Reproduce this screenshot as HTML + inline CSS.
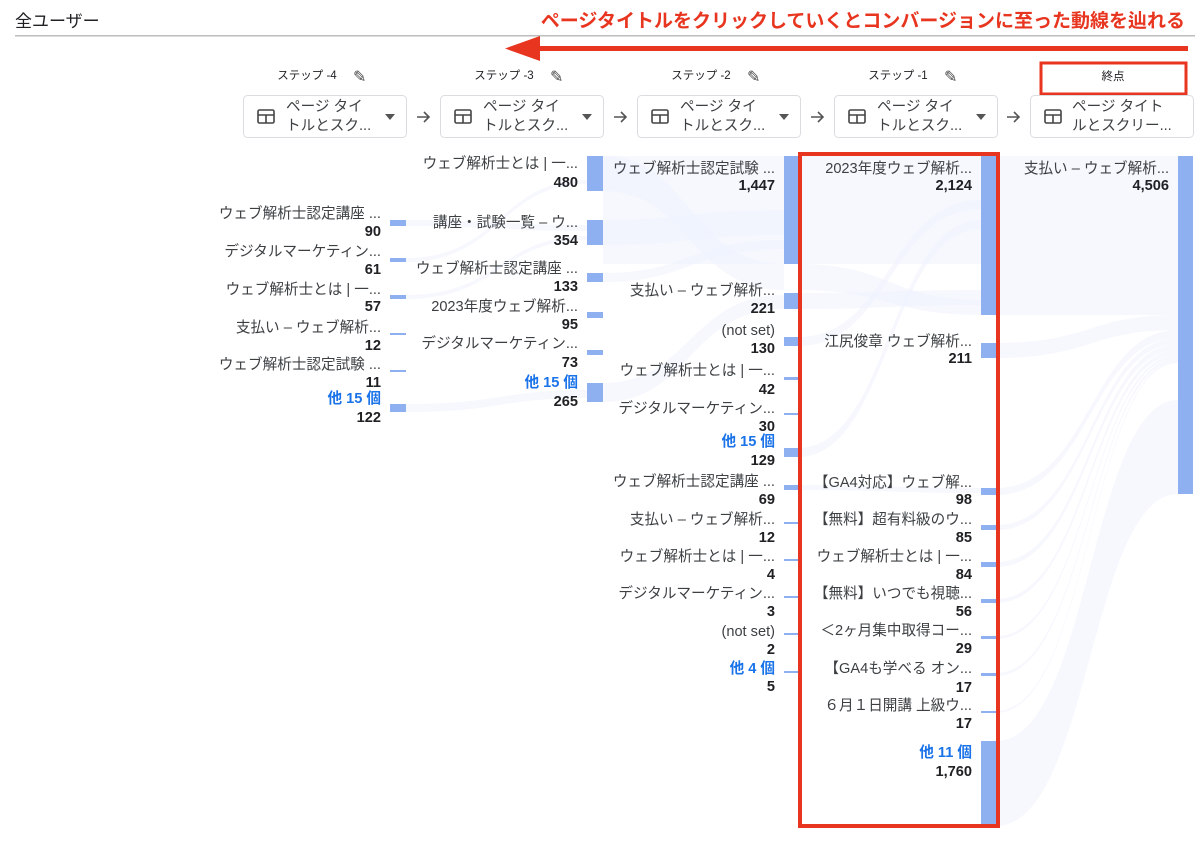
<!DOCTYPE html>
<html><head><meta charset="utf-8"><style>
body{margin:0;background:#fff;width:1200px;height:840px;overflow:hidden;font-family:"Liberation Sans","Noto Sans CJK JP",sans-serif}
svg text{font-family:"Liberation Sans","Noto Sans CJK JP",sans-serif}
.l{font-size:14.6px;fill:#3c4043;text-anchor:end}
.n{font-size:14.6px;fill:#202124;font-weight:bold;text-anchor:end}
.o{font-size:14.6px;fill:#1a73e8;font-weight:bold;text-anchor:end}
.s{font-size:11.5px;fill:#202124;text-anchor:middle}
.d{font-size:14.6px;fill:#3c4043}
.b{fill:#8fb0f0}
.f{fill:#eef3fd;opacity:.55}
</style></head><body>
<svg width="1200" height="840" xmlns="http://www.w3.org/2000/svg">
<text x="15" y="27" font-size="17" fill="#202124">全ユーザー</text>
<rect x="15" y="35" width="1180" height="1.5" fill="#bdbdbd"/>
<text x="1185" y="27" font-size="19" font-weight="bold" fill="#e8351f" text-anchor="end">ページタイトルをクリックしていくとコンバージョンに至った動線を辿れる</text>
<rect x="535" y="46" width="653" height="5" fill="#e8351f"/>
<polygon points="505,48.5 540,36 540,61" fill="#e8351f"/>

<!-- flows -->
<rect class="f" x="603" y="156" width="181" height="108"/>
<rect class="f" x="798" y="156" width="183" height="108"/>
<rect class="f" x="996" y="156" width="182" height="159"/>
<path class="f" d="M798 264 C890 264,890 300,981 300 L981 315 C890 315,890 290,798 290Z"/>
<path class="f" d="M798 293 C890 293,890 290,981 290 L981 305 C890 305,890 309,798 309Z"/>
<path class="f" d="M996 343 C1090 343,1090 315,1178 315 L1178 330 C1090 330,1090 358,996 358Z"/>
<path class="f" d="M996 741 C1090 741,1090 400,1178 400 L1178 494 C1090 494,1090 826,996 826Z"/>
<path class="f" d="M996 488 C1090 488,1090 330,1178 330 L1178 338 C1090 338,1090 495,996 495Z"/>
<path class="f" d="M996 525 C1090 525,1090 338,1178 338 L1178 344 C1090 344,1090 530,996 530Z"/>
<path class="f" d="M996 562 C1090 562,1090 344,1178 344 L1178 350 C1090 350,1090 567,996 567Z"/>
<path class="f" d="M996 599 C1090 599,1090 350,1178 350 L1178 355 C1090 355,1090 603,996 603Z"/>
<path class="f" d="M996 636 C1090 636,1090 355,1178 355 L1178 358 C1090 358,1090 639,996 639Z"/>
<path class="f" d="M996 673 C1090 673,1090 358,1178 358 L1178 361 C1090 361,1090 676,996 676Z"/>
<path class="f" d="M996 711 C1090 711,1090 361,1178 361 L1178 363 C1090 363,1090 713,996 713Z"/>
<path class="f" d="M798 337 C890 337,890 200,981 200 L981 209 C890 209,890 346,798 346Z"/>
<path class="f" d="M798 448 C890 448,890 220,981 220 L981 229 C890 229,890 457,798 457Z"/>
<path class="f" d="M798 485 C890 485,890 488,981 488 L981 493 C890 493,890 490,798 490Z"/>
<path class="f" d="M603 156 C690 156,690 264,784 264 L784 290 C690 290,690 191,603 191Z"/>
<path class="f" d="M603 220 C690 220,690 210,784 210 L784 235 C690 235,690 245,603 245Z"/>
<path class="f" d="M603 273 C690 273,690 240,784 240 L784 249 C690 249,690 282,603 282Z"/>
<path class="f" d="M603 383 C690 383,690 295,784 295 L784 309 C690 309,690 402,603 402Z"/>
<path class="f" d="M406 220 C500 220,500 225,587 225 L587 231 C500 231,500 226,406 226Z"/>
<path class="f" d="M406 258 C500 258,500 180,587 180 L587 184 C500 184,500 262,406 262Z"/>
<path class="f" d="M406 404 C500 404,500 390,587 390 L587 398 C500 398,500 412,406 412Z"/>
<path class="f" d="M406 295 C500 295,500 236,587 236 L587 240 C500 240,500 299,406 299Z"/>

<!-- bars -->
<rect class="b" x="390" y="220" width="16" height="6"/>
<rect class="b" x="390" y="258" width="16" height="4"/>
<rect class="b" x="390" y="295" width="16" height="4"/>
<rect class="b" x="390" y="333" width="16" height="2"/>
<rect class="b" x="390" y="370" width="16" height="2"/>
<rect class="b" x="390" y="404" width="16" height="8"/>
<rect class="b" x="587" y="156" width="16" height="35"/>
<rect class="b" x="587" y="220" width="16" height="25"/>
<rect class="b" x="587" y="273" width="16" height="9"/>
<rect class="b" x="587" y="312" width="16" height="6"/>
<rect class="b" x="587" y="350" width="16" height="5"/>
<rect class="b" x="587" y="383" width="16" height="19"/>
<rect class="b" x="784" y="156" width="14" height="108"/>
<rect class="b" x="784" y="293" width="14" height="16"/>
<rect class="b" x="784" y="337" width="14" height="9"/>
<rect class="b" x="784" y="377" width="14" height="3"/>
<rect class="b" x="784" y="413" width="14" height="2"/>
<rect class="b" x="784" y="448" width="14" height="9"/>
<rect class="b" x="784" y="485" width="14" height="5"/>
<rect class="b" x="784" y="522" width="14" height="2"/>
<rect class="b" x="784" y="559" width="14" height="2"/>
<rect class="b" x="784" y="596" width="14" height="2"/>
<rect class="b" x="784" y="633" width="14" height="2"/>
<rect class="b" x="784" y="671" width="14" height="2"/>
<rect class="b" x="981" y="156" width="15" height="159"/>
<rect class="b" x="981" y="343" width="15" height="15"/>
<rect class="b" x="981" y="488" width="15" height="7"/>
<rect class="b" x="981" y="525" width="15" height="5"/>
<rect class="b" x="981" y="562" width="15" height="5"/>
<rect class="b" x="981" y="599" width="15" height="4"/>
<rect class="b" x="981" y="636" width="15" height="3"/>
<rect class="b" x="981" y="673" width="15" height="3"/>
<rect class="b" x="981" y="711" width="15" height="2"/>
<rect class="b" x="981" y="741" width="15" height="85"/>
<rect class="b" x="1178" y="156" width="15" height="338"/>

<!-- step -4 labels -->
<text class="l" x="381" y="218">ウェブ解析士認定講座 ...</text><text class="n" x="381" y="236">90</text>
<text class="l" x="381" y="256">デジタルマーケティン...</text><text class="n" x="381" y="274">61</text>
<text class="l" x="381" y="294">ウェブ解析士とは | 一...</text><text class="n" x="381" y="311">57</text>
<text class="l" x="381" y="332">支払い – ウェブ解析...</text><text class="n" x="381" y="350">12</text>
<text class="l" x="381" y="369">ウェブ解析士認定試験 ...</text><text class="n" x="381" y="387">11</text>
<text class="o" x="381" y="403">他 15 個</text><text class="n" x="381" y="422">122</text>
<!-- step -3 -->
<text class="l" x="578" y="168">ウェブ解析士とは | 一...</text><text class="n" x="578" y="187">480</text>
<text class="l" x="578" y="227">講座・試験一覧 – ウ...</text><text class="n" x="578" y="245">354</text>
<text class="l" x="578" y="273">ウェブ解析士認定講座 ...</text><text class="n" x="578" y="291">133</text>
<text class="l" x="578" y="311">2023年度ウェブ解析...</text><text class="n" x="578" y="329">95</text>
<text class="l" x="578" y="348">デジタルマーケティン...</text><text class="n" x="578" y="367">73</text>
<text class="o" x="578" y="387">他 15 個</text><text class="n" x="578" y="406">265</text>
<!-- step -2 -->
<text class="l" x="775" y="173">ウェブ解析士認定試験 ...</text><text class="n" x="775" y="190">1,447</text>
<text class="l" x="775" y="295">支払い – ウェブ解析...</text><text class="n" x="775" y="313">221</text>
<text class="l" x="775" y="335">(not set)</text><text class="n" x="775" y="353">130</text>
<text class="l" x="775" y="375">ウェブ解析士とは | 一...</text><text class="n" x="775" y="394">42</text>
<text class="l" x="775" y="413">デジタルマーケティン...</text><text class="n" x="775" y="431">30</text>
<text class="o" x="775" y="446">他 15 個</text><text class="n" x="775" y="465">129</text>
<text class="l" x="775" y="486">ウェブ解析士認定講座 ...</text><text class="n" x="775" y="504">69</text>
<text class="l" x="775" y="524">支払い – ウェブ解析...</text><text class="n" x="775" y="542">12</text>
<text class="l" x="775" y="561">ウェブ解析士とは | 一...</text><text class="n" x="775" y="579">4</text>
<text class="l" x="775" y="598">デジタルマーケティン...</text><text class="n" x="775" y="616">3</text>
<text class="l" x="775" y="636">(not set)</text><text class="n" x="775" y="654">2</text>
<text class="o" x="775" y="673">他 4 個</text><text class="n" x="775" y="691">5</text>
<!-- step -1 -->
<text class="l" x="972" y="173">2023年度ウェブ解析...</text><text class="n" x="972" y="190">2,124</text>
<text class="l" x="972" y="346">江尻俊章 ウェブ解析...</text><text class="n" x="972" y="363">211</text>
<text class="l" x="972" y="487">【GA4対応】ウェブ解...</text><text class="n" x="972" y="504">98</text>
<text class="l" x="972" y="524">【無料】超有料級のウ...</text><text class="n" x="972" y="542">85</text>
<text class="l" x="972" y="561">ウェブ解析士とは | 一...</text><text class="n" x="972" y="579">84</text>
<text class="l" x="972" y="598">【無料】いつでも視聴...</text><text class="n" x="972" y="616">56</text>
<text class="l" x="972" y="635">＜2ヶ月集中取得コー...</text><text class="n" x="972" y="653">29</text>
<text class="l" x="972" y="673">【GA4も学べる オン...</text><text class="n" x="972" y="692">17</text>
<text class="l" x="972" y="710">６月１日開講 上級ウ...</text><text class="n" x="972" y="728">17</text>
<text class="o" x="972" y="757">他 11 個</text><text class="n" x="972" y="776">1,760</text>
<!-- end -->
<text class="l" x="1169" y="173">支払い – ウェブ解析...</text><text class="n" x="1169" y="190">4,506</text>

<!-- headers -->
<text class="s" x="307" y="79">ステップ -4</text><text x="353" y="82" font-size="16" fill="#444">✎</text>
<text class="s" x="504" y="79">ステップ -3</text><text x="550" y="82" font-size="16" fill="#444">✎</text>
<text class="s" x="701" y="79">ステップ -2</text><text x="747" y="82" font-size="16" fill="#444">✎</text>
<text class="s" x="898" y="79">ステップ -1</text><text x="944" y="82" font-size="16" fill="#444">✎</text>
<text class="s" x="1113" y="80">終点</text>
<rect x="1041" y="63" width="145" height="31" fill="none" stroke="#e8351f" stroke-width="3"/>
<g fill="#fff" stroke="#dadce0">
<rect x="243.5" y="95.5" width="163" height="42" rx="4"/>
<rect x="440.5" y="95.5" width="163" height="42" rx="4"/>
<rect x="637.5" y="95.5" width="163" height="42" rx="4"/>
<rect x="834.5" y="95.5" width="163" height="42" rx="4"/>
<rect x="1030.5" y="95.5" width="163" height="42" rx="4"/>
</g>
<g fill="none" stroke="#444" stroke-width="1.6">
<rect x="258" y="110" width="16" height="13" rx="1.5"/><path d="M258 115H274M266 115V123"/>
<rect x="455" y="110" width="16" height="13" rx="1.5"/><path d="M455 115H471M463 115V123"/>
<rect x="652" y="110" width="16" height="13" rx="1.5"/><path d="M652 115H668M660 115V123"/>
<rect x="849" y="110" width="16" height="13" rx="1.5"/><path d="M849 115H865M857 115V123"/>
<rect x="1045" y="110" width="16" height="13" rx="1.5"/><path d="M1045 115H1061M1053 115V123"/>
</g>
<g fill="#555">
<polygon points="385,114 395,114 390,120"/><polygon points="582,114 592,114 587,120"/>
<polygon points="779,114 789,114 784,120"/><polygon points="976,114 986,114 981,120"/>
</g>
<text class="d" x="286" y="111">ページ タイ</text><text class="d" x="286" y="130">トルとスク...</text>
<text class="d" x="483" y="111">ページ タイ</text><text class="d" x="483" y="130">トルとスク...</text>
<text class="d" x="680" y="111">ページ タイ</text><text class="d" x="680" y="130">トルとスク...</text>
<text class="d" x="877" y="111">ページ タイ</text><text class="d" x="877" y="130">トルとスク...</text>
<text class="d" x="1072" y="111">ページ タイト</text><text class="d" x="1072" y="130">ルとスクリー...</text>
<g fill="none" stroke="#555" stroke-width="1.6">
<path d="M417 117H429M424 112L429 117L424 122"/>
<path d="M614 117H626M621 112L626 117L621 122"/>
<path d="M811 117H823M818 112L823 117L818 122"/>
<path d="M1007 117H1019M1014 112L1019 117L1014 122"/>
</g>

<rect x="800" y="154" width="198" height="672" fill="none" stroke="#e8351f" stroke-width="4"/>
</svg>
</body></html>
